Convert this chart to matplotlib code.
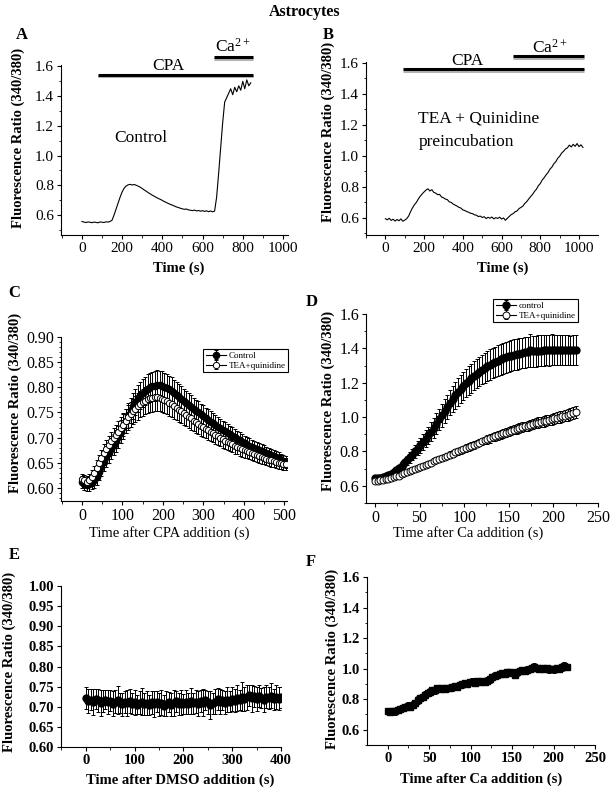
import matplotlib
matplotlib.use("Agg")
import matplotlib.pyplot as plt
import numpy as np

plt.rcParams['font.family'] = ['Liberation Serif', 'DejaVu Serif']
plt.rcParams['mathtext.fontset'] = 'custom'
plt.rcParams['mathtext.rm'] = 'Liberation Serif'
plt.rcParams['mathtext.it'] = 'Liberation Serif:italic'
plt.rcParams['mathtext.bf'] = 'Liberation Serif:bold'

# ---- panel A: single trace, control (10 s samples) ----
a_time = np.arange(0, 845, 10)
a_ratio = [0.556, 0.552, 0.549, 0.553, 0.551, 0.548, 0.552, 0.550, 0.547, 0.553,
           0.551, 0.549, 0.554, 0.552, 0.556, 0.565, 0.600, 0.640, 0.680, 0.720,
           0.755, 0.780, 0.795, 0.803, 0.806, 0.802, 0.805, 0.800, 0.794, 0.787,
           0.778, 0.768, 0.760, 0.750, 0.742, 0.733, 0.726, 0.718, 0.711, 0.705,
           0.698, 0.690, 0.684, 0.677, 0.671, 0.666, 0.660, 0.654, 0.650, 0.645,
           0.641, 0.638, 0.640, 0.634, 0.632, 0.629, 0.633, 0.627, 0.630, 0.625,
           0.629, 0.624, 0.628, 0.622, 0.627, 0.621, 0.626, 0.720, 0.880, 1.050,
           1.220, 1.360, 1.390, 1.420, 1.450, 1.410, 1.460, 1.430, 1.470, 1.440,
           1.500, 1.450, 1.510, 1.470, 1.490]

# ---- panel B: single trace, TEA + quinidine ----
b_time = np.arange(0, 1025, 10)
b_ratio = [0.595, 0.588, 0.598, 0.584, 0.592, 0.580, 0.590, 0.582, 0.594, 0.579,
           0.586, 0.595, 0.612, 0.640, 0.665, 0.685, 0.700, 0.722, 0.740, 0.755,
           0.768, 0.780, 0.788, 0.774, 0.782, 0.765, 0.760, 0.750, 0.752, 0.735,
           0.730, 0.722, 0.718, 0.704, 0.700, 0.690, 0.683, 0.677, 0.668, 0.664,
           0.652, 0.648, 0.641, 0.637, 0.630, 0.628, 0.620, 0.618, 0.609, 0.612,
           0.603, 0.608, 0.596, 0.604, 0.598, 0.606, 0.594, 0.602, 0.597, 0.605,
           0.593, 0.600, 0.585, 0.598, 0.610, 0.622, 0.628, 0.640, 0.645, 0.660,
           0.668, 0.676, 0.694, 0.705, 0.722, 0.738, 0.752, 0.771, 0.785, 0.808,
           0.822, 0.845, 0.860, 0.878, 0.893, 0.915, 0.928, 0.950, 0.962, 0.985,
           0.998, 1.018, 1.030, 1.045, 1.052, 1.070, 1.058, 1.075, 1.062, 1.080,
           1.060, 1.072, 1.055]

# ---- panel C: mean +/- SEM after CPA (6 s samples) ----
c_time = np.arange(0, 505, 6)
c_ctrl = [0.612, 0.608, 0.605, 0.607, 0.610, 0.615, 0.622, 0.632, 0.642, 0.652,
          0.662, 0.670, 0.678, 0.686, 0.694, 0.702, 0.712, 0.722, 0.733, 0.744,
          0.754, 0.763, 0.771, 0.778, 0.784, 0.789, 0.793, 0.797, 0.800, 0.802,
          0.803, 0.804, 0.804, 0.803, 0.801, 0.799, 0.796, 0.793, 0.789, 0.785,
          0.781, 0.777, 0.773, 0.769, 0.765, 0.761, 0.757, 0.753, 0.750, 0.746,
          0.743, 0.739, 0.736, 0.732, 0.729, 0.726, 0.722, 0.719, 0.716, 0.713,
          0.710, 0.707, 0.704, 0.701, 0.698, 0.695, 0.692, 0.689, 0.686, 0.684,
          0.681, 0.679, 0.677, 0.675, 0.673, 0.671, 0.669, 0.667, 0.665, 0.663,
          0.661, 0.659, 0.656, 0.654, 0.652]
c_ctrl_err = [0.012, 0.013, 0.012, 0.014, 0.013, 0.015, 0.016, 0.017, 0.018, 0.019,
              0.020, 0.020, 0.021, 0.021, 0.022, 0.022, 0.023, 0.024, 0.024, 0.025,
              0.025, 0.026, 0.026, 0.027, 0.027, 0.028, 0.028, 0.029, 0.029, 0.029,
              0.030, 0.030, 0.029, 0.029, 0.028, 0.028, 0.027, 0.027, 0.026, 0.026,
              0.025, 0.025, 0.024, 0.024, 0.023, 0.023, 0.022, 0.022, 0.022, 0.021,
              0.021, 0.020, 0.020, 0.020, 0.019, 0.019, 0.019, 0.018, 0.018, 0.018,
              0.017, 0.017, 0.017, 0.016, 0.016, 0.016, 0.016, 0.015, 0.015, 0.015,
              0.015, 0.014, 0.014, 0.014, 0.014, 0.014, 0.013, 0.013, 0.013, 0.013,
              0.013, 0.013, 0.012, 0.012, 0.012]
c_tea = [0.618, 0.615, 0.612, 0.616, 0.622, 0.630, 0.640, 0.650, 0.660, 0.670,
         0.678, 0.686, 0.693, 0.700, 0.706, 0.712, 0.719, 0.726, 0.733, 0.740,
         0.746, 0.752, 0.757, 0.762, 0.766, 0.770, 0.773, 0.776, 0.778, 0.779,
         0.780, 0.780, 0.779, 0.777, 0.775, 0.772, 0.769, 0.766, 0.762, 0.759,
         0.755, 0.752, 0.748, 0.745, 0.741, 0.738, 0.734, 0.731, 0.728, 0.724,
         0.721, 0.718, 0.715, 0.712, 0.709, 0.706, 0.703, 0.700, 0.697, 0.694,
         0.692, 0.689, 0.687, 0.684, 0.682, 0.679, 0.677, 0.675, 0.673, 0.671,
         0.669, 0.667, 0.665, 0.663, 0.661, 0.660, 0.658, 0.656, 0.655, 0.653,
         0.651, 0.650, 0.649, 0.648, 0.647]
c_tea_err = [0.010, 0.011, 0.012, 0.012, 0.013, 0.014, 0.015, 0.016, 0.016, 0.017,
             0.018, 0.018, 0.019, 0.020, 0.020, 0.021, 0.022, 0.022, 0.023, 0.024,
             0.024, 0.025, 0.025, 0.026, 0.026, 0.027, 0.027, 0.027, 0.028, 0.028,
             0.028, 0.028, 0.027, 0.027, 0.027, 0.026, 0.026, 0.025, 0.025, 0.024,
             0.024, 0.023, 0.023, 0.022, 0.022, 0.022, 0.021, 0.021, 0.020, 0.020,
             0.020, 0.019, 0.019, 0.019, 0.018, 0.018, 0.018, 0.017, 0.017, 0.017,
             0.016, 0.016, 0.016, 0.016, 0.015, 0.015, 0.015, 0.015, 0.014, 0.014,
             0.014, 0.014, 0.014, 0.013, 0.013, 0.013, 0.013, 0.013, 0.013, 0.012,
             0.012, 0.012, 0.012, 0.012, 0.012]

# ---- panel D: mean +/- SEM after Ca (3 s samples) ----
d_time = np.arange(0, 226, 3)
d_ctrl = [0.645, 0.646, 0.648, 0.651, 0.655, 0.661, 0.669, 0.679, 0.690, 0.703,
          0.717, 0.732, 0.748, 0.765, 0.782, 0.800, 0.818, 0.836, 0.855, 0.874,
          0.893, 0.915, 0.938, 0.962, 0.986, 1.010, 1.035, 1.060, 1.083, 1.106,
          1.127, 1.146, 1.164, 1.181, 1.197, 1.212, 1.226, 1.240, 1.253, 1.265,
          1.276, 1.287, 1.297, 1.306, 1.314, 1.322, 1.329, 1.336, 1.342, 1.348,
          1.353, 1.358, 1.362, 1.366, 1.370, 1.373, 1.376, 1.379, 1.388, 1.382,
          1.384, 1.386, 1.387, 1.388, 1.391, 1.389, 1.392, 1.390, 1.391, 1.389,
          1.391, 1.389, 1.390, 1.388, 1.389, 1.390]
d_ctrl_err = [0.010, 0.010, 0.011, 0.011, 0.012, 0.013, 0.014, 0.016, 0.018, 0.020,
              0.022, 0.025, 0.028, 0.031, 0.034, 0.037, 0.040, 0.043, 0.046, 0.049,
              0.052, 0.055, 0.058, 0.061, 0.064, 0.067, 0.069, 0.071, 0.073, 0.075,
              0.077, 0.079, 0.080, 0.081, 0.082, 0.083, 0.084, 0.085, 0.085, 0.086,
              0.086, 0.087, 0.087, 0.088, 0.088, 0.088, 0.089, 0.089, 0.089, 0.089,
              0.090, 0.090, 0.090, 0.090, 0.090, 0.090, 0.090, 0.090, 0.095, 0.090,
              0.090, 0.090, 0.090, 0.089, 0.089, 0.089, 0.089, 0.088, 0.088, 0.088,
              0.087, 0.087, 0.087, 0.086, 0.086, 0.086]
d_tea = [0.630, 0.628, 0.632, 0.634, 0.637, 0.641, 0.645, 0.650, 0.655, 0.660,
         0.666, 0.672, 0.678, 0.684, 0.690, 0.696, 0.703, 0.709, 0.716, 0.722,
         0.729, 0.735, 0.742, 0.748, 0.755, 0.761, 0.768, 0.774, 0.781, 0.787,
         0.794, 0.800, 0.807, 0.813, 0.820, 0.826, 0.833, 0.839, 0.846, 0.852,
         0.858, 0.864, 0.870, 0.876, 0.882, 0.888, 0.894, 0.899, 0.905, 0.910,
         0.916, 0.921, 0.926, 0.931, 0.936, 0.941, 0.946, 0.950, 0.955, 0.959,
         0.964, 0.968, 0.972, 0.976, 0.980, 0.984, 0.988, 0.992, 0.996, 1.000,
         1.004, 1.008, 1.013, 1.017, 1.022, 1.028]
d_tea_err = [0.010, 0.010, 0.010, 0.011, 0.011, 0.011, 0.012, 0.012, 0.012, 0.013,
             0.013, 0.013, 0.014, 0.014, 0.014, 0.015, 0.015, 0.015, 0.016, 0.016,
             0.016, 0.017, 0.017, 0.017, 0.018, 0.018, 0.018, 0.019, 0.019, 0.019,
             0.020, 0.020, 0.020, 0.021, 0.021, 0.021, 0.022, 0.022, 0.022, 0.023,
             0.023, 0.023, 0.024, 0.024, 0.024, 0.025, 0.025, 0.025, 0.026, 0.026,
             0.026, 0.027, 0.027, 0.027, 0.028, 0.028, 0.028, 0.029, 0.029, 0.029,
             0.030, 0.030, 0.030, 0.031, 0.031, 0.031, 0.032, 0.032, 0.032, 0.033,
             0.033, 0.033, 0.034, 0.034, 0.034, 0.035]

# ---- panel E: DMSO vehicle (5 s samples) ----
e_time = np.arange(0, 401, 5)
e_ratio = [0.722, 0.715, 0.718, 0.712, 0.720, 0.716, 0.709, 0.714, 0.718, 0.711,
           0.715, 0.708, 0.713, 0.717, 0.710, 0.706, 0.712, 0.709, 0.714, 0.707,
           0.711, 0.705, 0.710, 0.713, 0.706, 0.709, 0.704, 0.711, 0.707, 0.712,
           0.706, 0.710, 0.703, 0.708, 0.712, 0.705, 0.709, 0.714, 0.707, 0.711,
           0.706, 0.712, 0.708, 0.715, 0.709, 0.713, 0.707, 0.714, 0.710, 0.716,
           0.711, 0.704, 0.709, 0.713, 0.719, 0.712, 0.716, 0.710, 0.718, 0.713,
           0.720, 0.715, 0.722, 0.717, 0.725, 0.719, 0.723, 0.728, 0.721, 0.726,
           0.720, 0.727, 0.722, 0.718, 0.725, 0.721, 0.727, 0.719, 0.724, 0.720,
           0.723]
e_err = [0.028, 0.030, 0.026, 0.032, 0.025, 0.029, 0.033, 0.027, 0.024, 0.030,
         0.026, 0.031, 0.028, 0.034, 0.025, 0.029, 0.027, 0.032, 0.030, 0.026,
         0.031, 0.024, 0.028, 0.033, 0.027, 0.030, 0.025, 0.029, 0.032, 0.026,
         0.028, 0.031, 0.027, 0.030, 0.024, 0.029, 0.033, 0.026, 0.028, 0.031,
         0.025, 0.030, 0.027, 0.032, 0.026, 0.029, 0.031, 0.027, 0.033, 0.025,
         0.028, 0.035, 0.026, 0.030, 0.027, 0.031, 0.025, 0.029, 0.032, 0.026,
         0.030, 0.028, 0.033, 0.025, 0.036, 0.029, 0.031, 0.027, 0.034, 0.026,
         0.030, 0.028, 0.025, 0.032, 0.029, 0.027, 0.031, 0.026, 0.030, 0.028,
         0.027]

# ---- panel F: Ca addition (3 s samples) ----
f_time = np.arange(0, 217, 3)
f_ratio = [0.722, 0.718, 0.725, 0.720, 0.728, 0.735, 0.742, 0.750, 0.758, 0.752,
           0.765, 0.778, 0.795, 0.808, 0.815, 0.830, 0.838, 0.850, 0.862, 0.858,
           0.870, 0.865, 0.872, 0.868, 0.876, 0.870, 0.878, 0.885, 0.880, 0.892,
           0.898, 0.905, 0.900, 0.910, 0.915, 0.908, 0.918, 0.912, 0.920, 0.915,
           0.922, 0.930, 0.942, 0.955, 0.960, 0.965, 0.972, 0.968, 0.975, 0.978,
           0.970, 0.960, 0.975, 0.982, 0.988, 0.985, 0.992, 0.998, 1.005, 1.012,
           1.002, 0.996, 1.004, 0.998, 1.002, 0.995, 1.000, 0.996, 1.004, 0.998,
           1.010, 1.018, 1.012]
f_err = [0.018, 0.020, 0.017, 0.021, 0.019, 0.022, 0.018, 0.020, 0.023, 0.019,
         0.021, 0.018, 0.024, 0.020, 0.019, 0.022, 0.018, 0.021, 0.020, 0.023,
         0.019, 0.021, 0.018, 0.022, 0.020, 0.019, 0.023, 0.018, 0.021, 0.020,
         0.022, 0.019, 0.021, 0.018, 0.024, 0.020, 0.019, 0.022, 0.018, 0.021,
         0.020, 0.023, 0.019, 0.021, 0.018, 0.022, 0.020, 0.019, 0.023, 0.018,
         0.021, 0.020, 0.022, 0.019, 0.021, 0.018, 0.023, 0.020, 0.019, 0.022,
         0.018, 0.021, 0.020, 0.023, 0.019, 0.021, 0.018, 0.022, 0.020, 0.019,
         0.023, 0.025, 0.021]

W, H = 610, 788
fig = plt.figure(figsize=(W / 100, H / 100), dpi=100)


def add_axes(x0, x1, ytop, ybot):
    # pixel box -> figure fraction
    return fig.add_axes([x0 / W, 1 - ybot / H, (x1 - x0) / W, (ybot - ytop) / H])


def style(ax, bold_ticks, fs):
    for s in ['top', 'right']:
        ax.spines[s].set_visible(False)
    for s in ['left', 'bottom']:
        ax.spines[s].set_linewidth(0.8)
    ax.tick_params(which='major', direction='out', length=3, width=0.8, labelsize=fs, pad=2)
    ax.tick_params(which='minor', direction='out', length=1.8, width=0.6)
    if bold_ticks:
        for lab in ax.get_xticklabels() + ax.get_yticklabels():
            lab.set_fontweight('bold')


def ylab(ax, x, y=0.5):
    ax.set_ylabel('Fluorescence Ratio (340/380)', fontsize=10.5, fontweight='bold')
    ax.yaxis.set_label_coords(x, y)


def xlab(ax, text, x, y, bold):
    ax.set_xlabel(text, fontsize=10.5, fontweight='bold' if bold else 'normal')
    ax.xaxis.set_label_coords(x, y)


def bar(ax, x0, x1, y):
    ax.plot([x0, x1], [y - 0.012, y - 0.012], color='0.7', lw=2.2, clip_on=False, solid_capstyle='butt')
    ax.plot([x0, x1], [y, y], color='black', lw=2.2, clip_on=False, solid_capstyle='butt')


fig.text(0.5, 1 - 12 / H, 'Astrocytes', ha='center', va='center', fontsize=11.5, fontweight='bold')

# ---- A ----
ax = add_axes(61, 288, 65, 235)
ax.plot(a_time, a_ratio, color='black', lw=0.8)
ax.set_xlim(-104, 1025)
ax.set_ylim(0.465, 1.61)
ax.set_xticks(np.arange(0, 1001, 200))
ax.set_xticks(np.arange(-100, 1001, 100), minor=True)
ax.set_yticks(np.arange(0.6, 1.61, 0.2))
ax.set_yticks(np.arange(0.5, 1.61, 0.1), minor=True)
ax.set_yticklabels(['0.6', '0.8', '1.0', '1.2', '1.4', '1.6'])
style(ax, False, 11)
bar(ax, 80, 850, 1.546)
bar(ax, 657, 850, 1.665)
ax.text(428, 1.60, 'CPA', ha='center', va='center', fontsize=12.5)
ax.text(752, 1.735, r'Ca$^{\mathregular{2+}}$', ha='center', va='center', fontsize=12.5)
ax.text(293, 1.12, 'Control', ha='center', va='center', fontsize=12.5)
ylab(ax, -0.159, 0.57)
xlab(ax, 'Time (s)', 0.52, -0.156, True)
fig.text(22 / W, 1 - 35 / H, 'A', ha='center', va='center', fontsize=12, fontweight='bold')

# ---- B ----
ax = add_axes(366, 598, 62, 235)
ax.plot(b_time, b_ratio, color='black', lw=0.8)
ax.set_xlim(-98, 1098)
ax.set_ylim(0.49, 1.606)
ax.set_xticks(np.arange(0, 1001, 200))
ax.set_xticks(np.arange(-100, 1001, 100), minor=True)
ax.set_yticks(np.arange(0.6, 1.61, 0.2))
ax.set_yticks(np.arange(0.5, 1.61, 0.1), minor=True)
ax.set_yticklabels(['0.6', '0.8', '1.0', '1.2', '1.4', '1.6'])
style(ax, False, 11)
bar(ax, 93, 1025, 1.561)
bar(ax, 660, 1025, 1.645)
ax.text(423, 1.61, 'CPA', ha='center', va='center', fontsize=12.5)
ax.text(850, 1.70, r'Ca$^{\mathregular{2+}}$', ha='center', va='center', fontsize=12.5)
ax.text(170, 1.24, 'TEA + Quinidine', ha='left', va='center', fontsize=12.5)
ax.text(170, 1.09, 'preincubation', ha='left', va='center', fontsize=12.5)
ylab(ax, -0.134, 0.595)
xlab(ax, 'Time (s)', 0.59, -0.153, True)
fig.text(328 / W, 1 - 35 / H, 'B', ha='center', va='center', fontsize=12, fontweight='bold')

eb = dict(elinewidth=0.7, capsize=1.5, capthick=0.7, lw=0.8, color='black', mec='black')

# ---- C ----
ax = add_axes(61, 287, 337, 501)
ax.errorbar(c_time, c_ctrl, yerr=c_ctrl_err, fmt='-o', ms=4.5, mfc='black', label='Control', **eb)
ax.errorbar(c_time, c_tea, yerr=c_tea_err, fmt='-o', ms=4.5, mfc='white', mew=0.7, label='TEA+quinidine', **eb)
ax.set_xlim(-52, 507)
ax.set_ylim(0.574, 0.90)
ax.set_xticks(np.arange(0, 501, 100))
ax.set_xticks(np.arange(-50, 501, 50), minor=True)
ax.set_yticks(np.arange(0.60, 0.901, 0.05))
ax.set_yticks(np.arange(0.58, 0.901, 0.01), minor=True)
ax.set_yticklabels(['0.60', '0.65', '0.70', '0.75', '0.80', '0.85', '0.90'])
style(ax, False, 11.5)
leg = ax.legend(loc='upper right', bbox_to_anchor=(288 / W, 1 - 349 / H), bbox_transform=fig.transFigure,
                fontsize=6.5, frameon=True, fancybox=False, edgecolor='black', framealpha=1,
                handlelength=2.2, borderpad=0.3, labelspacing=0.15, handletextpad=0.3, borderaxespad=0)
leg.get_frame().set_linewidth(0.8)
ylab(ax, -0.173, 0.60)
xlab(ax, 'Time after CPA addition (s)', 0.48, -0.155, False)
fig.text(14 / W, 1 - 293 / H, 'C', ha='center', va='center', fontsize=12, fontweight='bold')

# ---- D ----
ax = add_axes(366, 598, 314, 503)
ax.errorbar(d_time, d_ctrl, yerr=d_ctrl_err, fmt='-o', ms=5, mfc='black', label='control', **eb)
ax.errorbar(d_time, d_tea, yerr=d_tea_err, fmt='-o', ms=5, mfc='white', mew=0.7, label='TEA+quinidine', **eb)
ax.set_xlim(-10, 250)
ax.set_ylim(0.5, 1.6)
ax.set_xticks(np.arange(0, 251, 50))
ax.set_xticks(np.arange(0, 251, 25), minor=True)
ax.set_yticks(np.arange(0.6, 1.61, 0.2))
ax.set_yticks(np.arange(0.5, 1.61, 0.1), minor=True)
ax.set_yticklabels(['0.6', '0.8', '1.0', '1.2', '1.4', '1.6'])
style(ax, False, 11.5)
leg = ax.legend(loc='upper right', bbox_to_anchor=(578 / W, 1 - 299 / H), bbox_transform=fig.transFigure,
                fontsize=6.5, frameon=True, fancybox=False, edgecolor='black', framealpha=1,
                handlelength=2.2, borderpad=0.3, labelspacing=0.15, handletextpad=0.3, borderaxespad=0)
leg.get_frame().set_linewidth(0.8)
ylab(ax, -0.134, 0.54)
xlab(ax, 'Time after Ca addition (s)', 0.44, -0.124, False)
fig.text(312 / W, 1 - 302 / H, 'D', ha='center', va='center', fontsize=12, fontweight='bold')

# ---- E ----
ax = add_axes(61, 281, 586, 747)
ax.errorbar(e_time, e_ratio, yerr=e_err, fmt='-o', ms=5, mfc='black', **eb)
ax.set_xlim(-51, 400)
ax.set_ylim(0.6, 1.0)
ax.set_xticks(np.arange(0, 401, 100))
ax.set_xticks(np.arange(-50, 401, 50), minor=True)
ax.set_yticks(np.arange(0.60, 1.001, 0.05))
ax.set_yticklabels(['0.60', '0.65', '0.70', '0.75', '0.80', '0.85', '0.90', '0.95', '1.00'])
style(ax, True, 10.5)
ylab(ax, -0.205, 0.53)
xlab(ax, 'Time after DMSO addition (s)', 0.54, -0.165, True)
fig.text(14 / W, 1 - 555 / H, 'E', ha='center', va='center', fontsize=12, fontweight='bold')

# ---- F ----
ax = add_axes(367, 595, 577, 745)
ax.errorbar(f_time, f_ratio, yerr=f_err, fmt='-s', ms=4.2, mfc='black', **eb)
ax.set_xlim(-25, 250)
ax.set_ylim(0.5, 1.6)
ax.set_xticks(np.arange(0, 251, 50))
ax.set_xticks(np.arange(0, 251, 25), minor=True)
ax.set_yticks(np.arange(0.6, 1.61, 0.2))
ax.set_yticks(np.arange(0.5, 1.61, 0.1), minor=True)
ax.set_yticklabels(['0.6', '0.8', '1.0', '1.2', '1.4', '1.6'])
style(ax, True, 10.5)
ylab(ax, -0.123, 0.51)
xlab(ax, 'Time after Ca addition (s)', 0.50, -0.164, True)
fig.text(311 / W, 1 - 562 / H, 'F', ha='center', va='center', fontsize=12, fontweight='bold')

fig.savefig('out.png', dpi=100)
